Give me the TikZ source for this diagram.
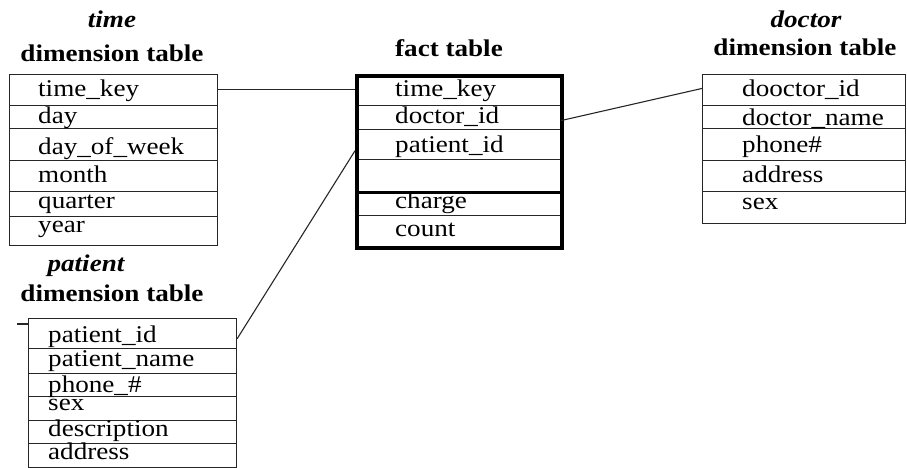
\documentclass[tikz,border=0pt]{standalone}
\usepackage{fontspec}
\setmainfont{Liberation Serif}[FakeStretch=1.13]
\usetikzlibrary{calc}
\tikzset{
  field/.style={draw=black!85, line width=1.1pt, inner sep=0pt, anchor=north west},
  entry/.style={anchor=base west, inner sep=0pt, font=\fontsize{24}{28}\selectfont},
  head/.style={anchor=base, inner sep=0pt, font=\fontsize{24}{28}\selectfont\bfseries},
  link/.style={draw=black!85, line width=1.1pt},
}
\begin{document}
\begin{tikzpicture}[x=1pt,y=-1pt]
\useasboundingbox (0,0) rectangle (907,468);

% ---- time dimension table ----
\node[head] (timeA) at (112,28) {\itshape time};
\node[head] (timeB) at (112,62) {dimension table};
\foreach \n/\t/\h in {1/74/31,2/105/23,3/128/32,4/160/31,5/191/25,6/216/29}
  \node[field, minimum width=208pt, minimum height=\h pt] (t\n) at (9,\t) {};
\node[entry] (tx1) at (38,97)  {time\_key};
\node[entry] (tx2) at (38,124) {day};
\node[entry] (tx3) at (38,154) {day\_of\_week};
\node[entry] (tx4) at (38,182) {month};
\node[entry] (tx5) at (38,208) {quarter};
\node[entry] (tx6) at (38,232) {year};

% ---- patient dimension table ----
\node[head] (patA) at (86,271) {\itshape patient};
\node[head] (patB) at (112,301) {dimension table};
\foreach \n/\t/\h in {1/318/30,2/348/25,3/373/23,4/396/24,5/420/23,6/443/24}
  \node[field, minimum width=208pt, minimum height=\h pt] (p\n) at (28,\t) {};
\node[entry] (px1) at (48,342) {patient\_id};
\node[entry] (px2) at (48,366) {patient\_name};
\node[entry] (px3) at (48,392) {phone\_\#};
\node[entry] (px4) at (48,410) {sex};
\node[entry] (px5) at (48,436) {description};
\node[entry] (px6) at (48,459) {address};
\coordinate (tickA) at (17,324);
\coordinate (tickB) at (28,324);
\draw[link] (tickA) -- (tickB);

% ---- fact table ----
\node[head] (factA) at (449,57) {fact table};
\foreach \n/\t/\h in {1/74/31,2/105/24,3/129/30,4/159/32,5/191/24,6/215/30.5}
  \node[field, minimum width=205pt, minimum height=\h pt] (f\n) at (355,\t) {};
\node[draw=black, line width=4pt, inner sep=0pt, anchor=north west,
      minimum width=205pt, minimum height=171.5pt] (fact) at (355,74) {};
\draw[black, line width=3pt] (f4.south west) -- (f4.south east);
\node[entry] (fx1) at (395,97)  {time\_key};
\node[entry] (fx2) at (395,124) {doctor\_id};
\node[entry] (fx3) at (395,153) {patient\_id};
\node[entry] (fx5) at (395,208) {charge};
\node[entry] (fx6) at (395,236) {count};

% ---- doctor dimension table ----
\node[head] (docA) at (806,28) {\itshape doctor};
\node[head] (docB) at (805,56) {dimension table};
\foreach \n/\t/\h in {1/74/31,2/105/23,3/128/32,4/160/31,5/191/32}
  \node[field, minimum width=203pt, minimum height=\h pt] (d\n) at (702,\t) {};
\node[entry] (dx1) at (742,97)  {dooctor\_id};
\node[entry] (dx2) at (742,125) {doctor\_name};
\node[entry] (dx3) at (742,153) {phone\#};
\node[entry] (dx4) at (742,182) {address};
\node[entry] (dx5) at (742,209) {sex};

% ---- key links ----
\coordinate (lkT) at ($(t1.north east)!0.48!(t1.south east)$);
\coordinate (lkF1) at ($(f1.north west)!0.48!(f1.south west)$);
\draw[link] (lkT) -- (lkF1);
\coordinate (lkF2) at ($(f2.north east)!0.62!(f2.south east)$);
\coordinate (lkD) at ($(d1.north west)!0.45!(d1.south west)$);
\draw[link] (lkF2) -- (lkD);
\coordinate (lkP) at ($(p1.north east)!0.67!(p1.south east)$);
\coordinate (lkF3) at ($(f3.north west)!0.7!(f3.south west)$);
\draw[link] (lkP) -- (lkF3);
\end{tikzpicture}
\end{document}
